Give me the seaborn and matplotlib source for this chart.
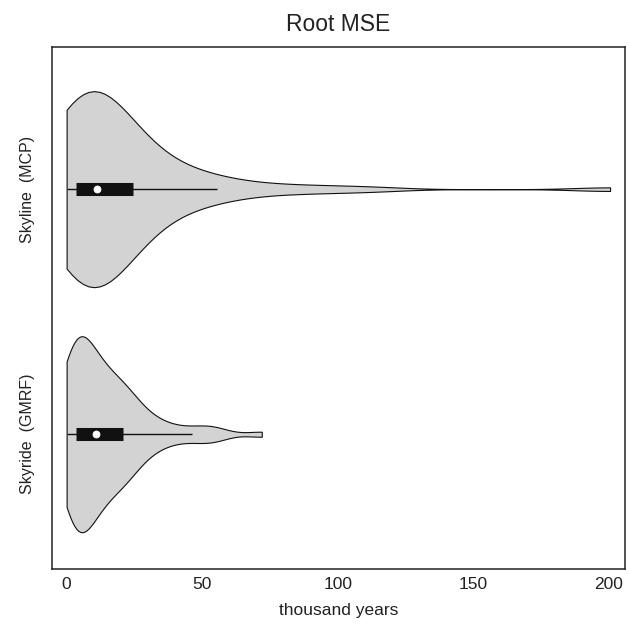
import pandas as pd
import seaborn as sns
import matplotlib
matplotlib.use("Agg")
import matplotlib.pyplot as plt

# categories shown on the y axis
methods = ["Skyline  (MCP)", "Skyride  (GMRF)"]

# root MSE per simulated data set (thousand years)
skyline_rmse = [
    0.0, 0.5, 0.9, 1.3, 1.6, 1.9, 2.1, 2.3, 2.5, 2.7,
    2.85, 2.95, 3.05, 3.1, 3.15, 3.2, 3.25, 3.3, 3.35, 3.4,
    3.6, 4.8, 5.5, 6.1, 6.6, 7.0, 7.4, 7.8, 8.2, 8.5,
    8.8, 9.1, 9.4, 9.6, 9.8, 10.0, 10.2, 10.4, 10.6, 10.8,
    11.5, 12.2, 12.9, 13.6, 14.3, 15.0, 15.7, 16.4, 17.1, 17.8,
    18.5, 19.2, 19.9, 20.6, 21.3, 22.0, 22.6, 23.2, 23.8, 24.4,
    25.5, 27.0, 28.5, 30.0, 32.0, 34.0, 36.0, 38.5, 41.0, 44.0,
    47.0, 50.0, 53.0, 55.4, 63.0, 72.0, 83.0, 96.0, 113.0, 200.5,
]
skyride_rmse = [
    0.0, 0.2, 0.4, 0.6, 0.8, 1.0, 1.2, 1.4, 1.6, 1.8,
    2.0, 2.2, 2.4, 2.6, 2.8, 3.0, 3.1, 3.2, 3.3, 3.4,
    3.6, 3.9, 4.2, 4.5, 4.8, 5.1, 5.4, 5.7, 6.0, 6.3,
    6.6, 6.9, 7.2, 7.5, 7.8, 8.2, 8.7, 9.3, 10.0, 10.7,
    11.0, 11.3, 11.6, 12.0, 12.4, 12.8, 13.2, 13.7, 14.2, 14.7,
    15.3, 15.9, 16.5, 17.1, 17.7, 18.4, 19.1, 19.8, 20.4, 20.9,
    21.2, 21.6, 22.1, 22.7, 23.4, 24.2, 25.1, 26.2, 27.5, 29.0,
    30.8, 32.5, 34.5, 37.5, 41.5, 46.1, 50.5, 53.5, 56.0, 72.0,
]
x_ticks = [0, 50, 100, 150, 200]

# kernel width (thousand years) used for each violin
kernel_width = [13.0, 5.5]


def main():
    df = pd.DataFrame({
        "method": [methods[0]] * len(skyline_rmse) + [methods[1]] * len(skyride_rmse),
        "rmse": skyline_rmse + skyride_rmse,
    })

    sns.set_style("white")
    plt.rcParams["font.family"] = ["Liberation Sans", "DejaVu Sans"]

    fig = plt.figure(figsize=(6.29, 6.27), dpi=100)
    ax = fig.add_axes([0.0822, 0.0925, 0.9114, 0.8325])

    for name, h in zip(methods, kernel_width):
        sns.violinplot(data=df[df.method == name], x="rmse", y="method",
                       order=methods, orient="h",
                       color="#d3d3d3", linecolor="#111111", linewidth=0.8,
                       cut=0, bw_method=lambda k, h=h: h / k.dataset.std(),
                       density_norm="width", width=0.8,
                       inner="box",
                       inner_kws=dict(box_width=9.4, whis_width=1.0, marker="o",
                                      markersize=5.0, markeredgewidth=0.6,
                                      solid_capstyle="butt"),
                       ax=ax)

    ax.set_xlim(-5.5, 206)
    ax.set_ylim(1.55, -0.58)
    ax.set_xticks(x_ticks)
    ax.set_xticklabels([str(t) for t in x_ticks], fontsize=12.5, color="#222222")
    ax.set_yticks([0, 1])
    ax.set_yticklabels(methods, rotation=90, va="center", fontsize=11.5, color="#222222")
    ax.tick_params(axis="both", length=0)
    ax.tick_params(axis="x", pad=5.5)
    ax.tick_params(axis="y", pad=12)
    ax.set_ylabel("")
    ax.set_xlabel("thousand years", fontsize=12.5, color="#222222", labelpad=8)
    ax.set_title("Root MSE", fontsize=16.5, color="#222222", pad=11.7)
    for s in ax.spines.values():
        s.set_visible(True)
        s.set_color("#222222")
        s.set_linewidth(1.1)

    fig.savefig("out.png", dpi=100)


if __name__ == '__main__':
    main()
